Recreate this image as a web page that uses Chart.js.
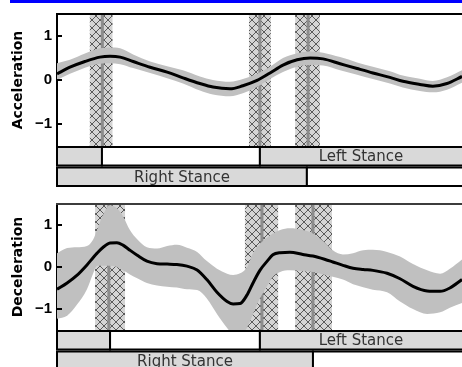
<!DOCTYPE html>
<html><head><meta charset="utf-8">
<script src="https://cdn.jsdelivr.net/npm/chart.js@4.4.1/dist/chart.umd.min.js"></script>
<style>
html,body{margin:0;padding:0;background:#fff;width:462px;height:367px;overflow:hidden;}
#bar{position:absolute;left:10px;top:0;width:452px;height:3px;background:#0000ff;}
canvas{position:absolute;left:0;}
#c1{top:0}
#c2{top:190px}
</style></head><body>
<div id="bar"></div>
<canvas id="c1" width="462" height="190"></canvas>
<canvas id="c2" width="462" height="177"></canvas>
<script>
const yTicks = [-1, 0, 1];

// Acceleration panel (x = % of gait cycle)
const accX = [0, 3.2, 6.9, 10.6, 13.1, 15.6, 18.8, 23.0, 27.2, 31.1, 35.3, 38.5, 42.7, 45.9, 49.4, 52.6, 55.8, 59.3, 62.5, 65.7, 69.9, 74.1, 78.0, 82.2, 85.4, 89.6, 92.8, 96.3, 100];
const accMean = [0.14, 0.29, 0.42, 0.52, 0.54, 0.52, 0.42, 0.29, 0.18, 0.05, -0.08, -0.16, -0.2, -0.13, -0.01, 0.16, 0.34, 0.46, 0.5, 0.48, 0.37, 0.26, 0.16, 0.06, -0.03, -0.1, -0.14, -0.08, 0.08];
const accUpper = [0.38, 0.46, 0.6, 0.72, 0.74, 0.72, 0.58, 0.42, 0.31, 0.22, 0.08, 0.0, -0.04, 0.02, 0.14, 0.3, 0.5, 0.61, 0.65, 0.62, 0.52, 0.4, 0.3, 0.2, 0.1, 0.03, -0.02, 0.06, 0.22];
const accLower = [0.0, 0.14, 0.28, 0.37, 0.38, 0.36, 0.27, 0.16, 0.04, -0.08, -0.24, -0.33, -0.37, -0.3, -0.16, 0.02, 0.18, 0.3, 0.34, 0.33, 0.22, 0.12, 0.02, -0.08, -0.17, -0.25, -0.28, -0.22, -0.06];

// Deceleration panel
const decX = [0, 2.5, 4.9, 7.4, 8.9, 9.9, 11.4, 13.1, 14.8, 16.3, 18.0, 19.8, 22.2, 24.7, 27.2, 29.6, 32.1, 34.6, 37.0, 39.5, 42.0, 43.5, 45.2, 46.9, 48.4, 50.1, 51.9, 53.3, 55.1, 57.5, 60.7, 63.2, 66.2, 68.1, 70.6, 73.1, 75.6, 78.0, 81.5, 84.7, 87.9, 91.4, 94.6, 97.0, 100];
const decMean = [-0.53, -0.38, -0.2, 0.05, 0.22, 0.33, 0.47, 0.57, 0.58, 0.52, 0.4, 0.28, 0.14, 0.08, 0.07, 0.06, 0.02, -0.07, -0.3, -0.6, -0.82, -0.88, -0.87, -0.67, -0.38, -0.08, 0.14, 0.29, 0.34, 0.35, 0.3, 0.26, 0.18, 0.12, 0.04, -0.03, -0.06, -0.08, -0.15, -0.28, -0.46, -0.57, -0.58, -0.5, -0.3];
const decUpper = [0.33, 0.45, 0.47, 0.5, 0.65, 0.88, 1.25, 1.47, 1.4, 1.21, 0.88, 0.66, 0.47, 0.44, 0.5, 0.53, 0.46, 0.36, 0.14, -0.04, -0.16, -0.19, -0.15, -0.01, 0.33, 0.55, 0.7, 0.8, 0.88, 0.92, 0.88, 0.8, 0.58, 0.4, 0.3, 0.33, 0.4, 0.41, 0.36, 0.25, 0.07, -0.08, -0.16, -0.04, 0.18];
const decLower = [-1.23, -1.16, -0.9, -0.53, -0.16, 0.03, 0.03, 0.03, 0.0, -0.08, -0.18, -0.27, -0.38, -0.44, -0.47, -0.49, -0.53, -0.55, -0.75, -1.12, -1.45, -1.6, -1.6, -1.45, -1.12, -0.75, -0.45, -0.23, -0.12, -0.08, -0.1, -0.12, -0.19, -0.23, -0.3, -0.41, -0.48, -0.54, -0.6, -0.82, -1.0, -1.12, -1.08, -0.97, -0.86];

// gait events: [start, end, centre] in % of cycle
const accEvents = [[8.1, 13.7, 11.2], [47.4, 52.8, 50.1], [58.8, 64.9, 62.0]];
const decEvents = [[9.4, 16.8, 12.8], [46.4, 54.6, 50.6], [58.8, 67.9, 63.2]];

// stance / swing phases: [from, to, kind, label]
const accLeftPhases = [[0, 11.1, 'stance', ''], [11.1, 50.1, 'swing', ''], [50.1, 101, 'stance', 'Left Stance']];
const accRightPhases = [[0, 61.7, 'stance', 'Right Stance'], [61.7, 101, 'swing', '']];
const decLeftPhases = [[0, 13.1, 'stance', ''], [13.1, 50.1, 'swing', ''], [50.1, 101, 'stance', 'Left Stance']];
const decRightPhases = [[0, 63.2, 'stance', 'Right Stance'], [63.2, 101, 'swing', '']];

const hatchTile = (() => {
  const c = document.createElement('canvas'); c.width = 8; c.height = 8;
  const g = c.getContext('2d');
  g.fillStyle = '#d4d4d4'; g.fillRect(0, 0, 8, 8);
  g.strokeStyle = '#5a5a5a'; g.lineWidth = 1;
  g.beginPath(); g.moveTo(0, 0); g.lineTo(8, 8); g.moveTo(8, 0); g.lineTo(0, 8); g.stroke();
  return c;
})();

const panelPlugin = {
  id: 'panel',
  beforeDatasetsDraw(chart, args, opts) {
    const {ctx, chartArea: a, scales: {x}} = chart;
    ctx.save();
    const pat = ctx.createPattern(hatchTile, 'repeat');
    opts.events.forEach(([s, e, c]) => {
      const x0 = x.getPixelForValue(s), x1 = x.getPixelForValue(e), xc = x.getPixelForValue(c);
      ctx.fillStyle = pat; ctx.fillRect(x0, a.top, x1 - x0, a.bottom - a.top);
      ctx.fillStyle = '#8c8c8c'; ctx.fillRect(xc - 1.5, a.top, 3, a.bottom - a.top);
    });
    ctx.restore();
  },
  afterDraw(chart, args, opts) {
    const {ctx, chartArea: a, scales: {x, y}} = chart;
    ctx.save();
    ctx.strokeStyle = opts.topColor; ctx.lineWidth = 2;
    ctx.beginPath(); ctx.moveTo(a.left - 1, a.top); ctx.lineTo(a.right, a.top); ctx.stroke();
    ctx.strokeStyle = '#000'; ctx.lineWidth = 2;
    yTicks.forEach(v => {
      const py = y.getPixelForValue(v);
      ctx.beginPath(); ctx.moveTo(a.left, py); ctx.lineTo(a.left + 5, py); ctx.stroke();
    });
    const rows = [[opts.left, 1, 19.5], [opts.right, 21.5, 40]];
    ctx.font = '15px "DejaVu Sans"'; ctx.textAlign = 'center'; ctx.textBaseline = 'middle';
    rows.forEach(([phases, t, b]) => {
      phases.forEach(([s, e, kind, label]) => {
        const x0 = x.getPixelForValue(s), x1 = x.getPixelForValue(e);
        const y0 = a.bottom + t, y1 = a.bottom + b;
        ctx.fillStyle = kind === 'stance' ? '#d9d9d9' : '#ffffff';
        ctx.fillRect(x0, y0, x1 - x0, y1 - y0);
        ctx.strokeStyle = '#000'; ctx.lineWidth = 2;
        ctx.strokeRect(x0, y0, x1 - x0, y1 - y0);
        if (label) {
          ctx.fillStyle = '#333';
          ctx.fillText(label, (Math.max(x0, a.left) + Math.min(x1, a.right)) / 2, (y0 + y1) / 2 + 1);
        }
      });
    });
    ctx.restore();
  }
};

function makeChart(id, xs, mean, up, lo, title, pad, events, left, right, topColor) {
  const pts = arr => xs.map((v, i) => ({x: v, y: arr[i]}));
  return new Chart(document.getElementById(id), {
    type: 'line',
    data: {
      datasets: [
        {data: pts(mean), borderColor: '#000', borderWidth: 3, pointRadius: 0, fill: false, cubicInterpolationMode: 'monotone'},
        {data: pts(up), borderColor: 'rgba(0,0,0,0)', borderWidth: 0, pointRadius: 0, fill: '+1', backgroundColor: '#c0c0c0', cubicInterpolationMode: 'monotone'},
        {data: pts(lo), borderColor: 'rgba(0,0,0,0)', borderWidth: 0, pointRadius: 0, fill: false, cubicInterpolationMode: 'monotone'}
      ]
    },
    options: {
      responsive: false, animation: false, devicePixelRatio: 1,
      layout: {padding: pad},
      plugins: {legend: {display: false}, tooltip: {enabled: false},
        panel: {events, left, right, topColor}},
      scales: {
        x: {type: 'linear', min: 0, max: 100, display: false},
        y: {
          min: -1.5, max: 1.5,
          afterBuildTicks: s => { s.ticks = yTicks.map(v => ({value: v})); },
          afterFit: s => { s.width = 57; },
          grid: {display: false, drawTicks: false},
          border: {display: true, color: '#000', width: 2},
          ticks: {padding: 5, color: '#000', font: {family: 'Liberation Sans', weight: 'bold', size: 15},
            callback: v => v < 0 ? '\u2212' + Math.abs(v) : String(v)},
          title: {display: true, text: title, color: '#000',
            font: {family: 'DejaVu Sans', weight: 'bold', size: 14}, padding: {top: 10, bottom: 0}}
        }
      }
    },
    plugins: [panelPlugin]
  });
}

makeChart('c1', accX, accMean, accUpper, accLower, 'Acceleration', {top: 12, bottom: 44, left: 0, right: 0}, accEvents, accLeftPhases, accRightPhases, '#000');
makeChart('c2', decX, decMean, decUpper, decLower, 'Deceleration', {top: 5, bottom: 37, left: 0, right: 0}, decEvents, decLeftPhases, decRightPhases, '#3c3c3c');
</script>
</body></html>
